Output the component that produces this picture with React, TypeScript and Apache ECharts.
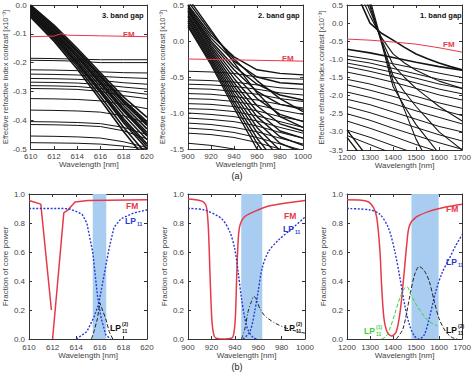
import React, { useEffect, useRef } from 'react';
import * as echarts from 'echarts';

const FONT = '"Liberation Sans", Arial, Helvetica, sans-serif';

// ---------------- data: top panels (effective index contrast) ----------------
const t1X = [610, 612, 614, 616, 618, 620];
const t1Steep = [
  [0.0, -0.07, -0.15, -0.235, -0.32, -0.39],
  [-0.004, -0.076, -0.157, -0.243, -0.33, -0.405],
  [-0.008, -0.082, -0.163, -0.25, -0.34, -0.418],
  [-0.012, -0.088, -0.17, -0.258, -0.35, -0.43],
  [-0.016, -0.093, -0.176, -0.266, -0.36, -0.442],
  [-0.02, -0.098, -0.182, -0.274, -0.37, -0.455],
  [-0.024, -0.103, -0.19, -0.284, -0.382, -0.468],
  [-0.028, -0.108, -0.197, -0.294, -0.395, -0.482],
  [-0.033, -0.114, -0.205, -0.305, -0.41, -0.5],
  [-0.038, -0.12, -0.213, -0.318, -0.425, -0.52],
  [-0.042, -0.126, -0.222, -0.33, -0.44, -0.54],
  [-0.006, -0.079, -0.16, -0.247, -0.335, -0.412],
  [-0.018, -0.096, -0.179, -0.27, -0.365, -0.449],
  [-0.03, -0.111, -0.201, -0.3, -0.402, -0.49],
];
const t1Flat = [
  [-0.185, -0.186, -0.188, -0.19, -0.19, -0.19],
  [-0.192, -0.193, -0.195, -0.2, -0.2, -0.2],
  [-0.225, -0.226, -0.228, -0.232, -0.235, -0.236],
  [-0.24, -0.241, -0.243, -0.248, -0.252, -0.255],
  [-0.255, -0.256, -0.258, -0.262, -0.27, -0.275],
  [-0.268, -0.269, -0.271, -0.276, -0.285, -0.292],
  [-0.28, -0.281, -0.283, -0.29, -0.3, -0.31],
  [-0.29, -0.291, -0.293, -0.3, -0.315, -0.325],
  [-0.325, -0.326, -0.328, -0.333, -0.345, -0.36],
  [-0.365, -0.366, -0.368, -0.372, -0.385, -0.41],
  [-0.405, -0.406, -0.408, -0.412, -0.425, -0.45],
  [-0.415, -0.416, -0.418, -0.422, -0.437, -0.465],
  [-0.455, -0.456, -0.458, -0.462, -0.475, -0.495],
  [-0.478, -0.479, -0.48, -0.483, -0.49, -0.5],
];
const t1FmX = [610, 612, 612.6, 613.2, 616, 620];
const t1FmY = [-0.11, -0.108, -0.1, -0.105, -0.107, -0.11];

const t2X = [900, 920, 940, 960, 980, 1000];
const t2Steep = [
  [0.5, 0.08, -0.22, -0.4, -0.45, -0.47],
  [0.48, 0.04, -0.28, -0.5, -0.58, -0.6],
  [0.46, 0.0, -0.35, -0.6, -0.75, -0.82],
  [0.44, -0.03, -0.4, -0.7, -0.88, -0.95],
  [0.42, -0.06, -0.46, -0.8, -1.02, -1.12],
  [0.4, -0.09, -0.52, -0.9, -1.15, -1.25],
  [0.37, -0.12, -0.58, -0.98, -1.25, -1.35],
  [0.35, -0.15, -0.63, -1.05, -1.33, -1.45],
  [0.33, -0.18, -0.68, -1.12, -1.42, -1.55],
  [0.3, -0.21, -0.73, -1.2, -1.52, -1.65],
  [0.28, -0.24, -0.78, -1.27, -1.62],
  [0.25, -0.27, -0.83, -1.35, -1.75],
  [0.22, -0.3, -0.88, -1.42, -1.85],
  [0.2, -0.33, -0.93, -1.5, -1.95],
  [0.55, 0.12, -0.25, -0.55, -0.8, -0.98],
  [0.6, 0.15, -0.3, -0.72, -1.05, -1.2],
];
const t2Flat = [
  [-0.42, -0.43, -0.45, -0.5, -0.52, -0.53],
  [-0.54, -0.55, -0.57, -0.61, -0.65, -0.67],
  [-0.6, -0.61, -0.63, -0.67, -0.72, -0.75],
  [-0.66, -0.67, -0.7, -0.74, -0.8, -0.84],
  [-0.73, -0.74, -0.77, -0.82, -0.88, -0.93],
  [-0.8, -0.81, -0.84, -0.89, -0.96, -1.02],
  [-0.87, -0.88, -0.91, -0.97, -1.05, -1.11],
  [-0.94, -0.95, -0.98, -1.04, -1.12, -1.2],
  [-1.0, -1.02, -1.05, -1.11, -1.2, -1.28],
  [-1.07, -1.09, -1.12, -1.18, -1.27, -1.35],
  [-1.14, -1.16, -1.2, -1.26, -1.35, -1.43],
  [-1.21, -1.23, -1.27, -1.34, -1.43, -1.52],
  [-1.28, -1.3, -1.34, -1.41, -1.5, -1.58],
  [-1.42, -1.45, -1.5, -1.57],
];
const t2FmX = [900, 950, 1000];
const t2FmY = [-0.25, -0.265, -0.28];

const t3X = [1200, 1300, 1400, 1500, 1600, 1700];
const t3Mod = [
  [-0.72, -0.82, -0.95, -1.08, -1.2, -1.3],
  [-0.9, -1.0, -1.12, -1.25, -1.38, -1.5],
  [-1.0, -1.1, -1.25, -1.4, -1.55, -1.65],
  [-1.1, -1.22, -1.36, -1.52, -1.68, -1.8],
  [-1.2, -1.33, -1.48, -1.65, -1.82, -1.95],
  [-1.35, -1.48, -1.63, -1.8, -1.98, -2.12],
  [-1.55, -1.68, -1.85, -2.02, -2.2, -2.35],
  [-1.7, -1.85, -2.02, -2.2, -2.38, -2.55],
  [-1.9, -2.05, -2.22, -2.42, -2.6, -2.78],
  [-2.1, -2.25, -2.45, -2.65, -2.85, -3.0],
  [-2.3, -2.47, -2.67, -2.88, -3.08, -3.25],
  [-2.5, -2.68, -2.9, -3.1, -3.3, -3.48],
  [-2.7, -2.9, -3.12, -3.35, -3.55],
  [-2.95, -3.15, -3.38, -3.6],
  [-3.1, -3.35, -3.6],
];
const t3CurveX = [1250, 1300, 1350, 1400, 1450, 1500, 1550, 1600, 1650, 1700];
const t3Curves = [
  [0.7, 0.0, -0.28, -0.47, -0.67, -0.85, -0.98, -1.1, -1.2, -1.29],
  [0.9, 0.2, -0.4, -0.85, -1.1, -1.3, -1.45, -1.6, -1.7, -1.8],
  [1.1, 0.35, -0.45, -1.15, -1.5, -1.8, -2.05, -2.3, -2.5, -2.7],
  [1.3, 0.45, -0.5, -1.45, -1.9, -2.3, -2.65, -3.0, -3.25, -3.5],
  [1.5, 0.55, -0.55, -1.75, -2.3, -2.8, -3.2, -3.6],
  [1.7, 0.65, -0.5, -1.6, -2.4, -3.2, -3.8],
];
const t3CornerX = [1200, 1230, 1260, 1290];
const t3Corner = [
  [-2.95, -3.2, -3.45, -3.7],
  [-3.15, -3.4, -3.65],
];
const t3FmX = [1200, 1300, 1400, 1500, 1600, 1700];
const t3FmY = [-0.44, -0.47, -0.52, -0.58, -0.68, -0.8];

// ---------------- data: bottom panels (fraction of core power) ----------------
const b1FmX = [610, 611, 611.9, 611.95, 612, 612.95, 613.3, 613.9, 615, 620];
const b1FmY = [0.955, 0.93, 0.2, null, 0.0, 0.87, 0.89, 0.945, 0.955, 0.96];
const b1LpDownX = [610, 613, 613.5, 614, 614.5, 614.9, 615.4, 615.8, 616.1, 616.5, 616.9];
const b1LpDownY = [0.9, 0.9, 0.895, 0.88, 0.86, 0.8, 0.6, 0.3, 0.15, 0.03, 0.0];
const b1LpUpX = [614.0, 614.9, 615.5, 615.9, 616.2, 616.5, 616.8, 617.2, 617.8, 618.9, 620];
const b1LpUpY = [0.0, 0.05, 0.15, 0.24, 0.37, 0.5, 0.63, 0.77, 0.83, 0.87, 0.89];
const b1Lp2X = [615.3, 615.5, 615.8, 616.0, 616.5, 616.8, 617.1];
const b1Lp2Y = [0.0, 0.05, 0.14, 0.25, 0.14, 0.05, 0.0];
const b1Band = [615.4, 616.55];

const b2FmX = [900, 910, 914, 916, 917.5, 919, 920.5, 922, 924, 930, 937, 939, 940.5, 941.5, 942.5, 944, 948, 957, 971, 1000];
const b2FmY = [0.965, 0.955, 0.94, 0.9, 0.75, 0.4, 0.12, 0.03, 0.005, 0.0, 0.005, 0.03, 0.15, 0.4, 0.62, 0.77, 0.84, 0.88, 0.92, 0.955];
const b2LpDownX = [900, 914, 928.6, 935.7, 940, 942.9, 945.7, 948.6, 951.4, 955.7, 958.6];
const b2LpDownY = [0.9, 0.89, 0.83, 0.74, 0.62, 0.46, 0.28, 0.14, 0.06, 0.01, 0.0];
const b2LpUpX = [947, 952.9, 957, 960, 963.4, 968.6, 977, 988.6, 1000];
const b2LpUpY = [0.0, 0.05, 0.19, 0.33, 0.49, 0.6, 0.68, 0.76, 0.84];
const b2Lp2X = [945.7, 948.6, 951.4, 954.3, 956.3, 958.6, 961.4, 965.7, 974.3, 985.7, 1000];
const b2Lp2Y = [0.0, 0.07, 0.19, 0.26, 0.295, 0.27, 0.21, 0.16, 0.11, 0.07, 0.04];
const b2Band = [945.5, 963.5];

const b3FmX = [1200, 1286, 1314, 1329, 1343, 1350, 1360, 1374, 1393, 1414, 1431, 1446, 1460, 1471, 1500, 1557, 1629, 1700];
const b3FmY = [0.96, 0.95, 0.91, 0.84, 0.61, 0.38, 0.15, 0.05, 0.02, 0.05, 0.19, 0.42, 0.66, 0.78, 0.84, 0.88, 0.91, 0.93];
const b3LpX = [1200, 1300, 1343, 1379, 1407, 1429, 1450, 1471, 1493, 1514, 1536, 1557, 1586, 1614, 1643, 1671, 1700];
const b3LpY = [0.9, 0.89, 0.86, 0.77, 0.61, 0.43, 0.24, 0.1, 0.02, 0.0, 0.03, 0.14, 0.33, 0.46, 0.55, 0.64, 0.72];
const b3Lp2X = [1414, 1443, 1471, 1493, 1514, 1536, 1557, 1579, 1600, 1629, 1657, 1679];
const b3Lp2Y = [0.0, 0.07, 0.28, 0.44, 0.5, 0.47, 0.4, 0.26, 0.14, 0.05, 0.01, 0.0];
const b3Lp1X = [1350, 1371, 1386, 1407, 1429, 1450, 1461, 1479, 1500, 1529, 1557, 1593];
const b3Lp1Y = [0.0, 0.02, 0.07, 0.17, 0.28, 0.35, 0.36, 0.3, 0.24, 0.17, 0.12, 0.09];
const b3Band = [1480, 1598];

// ---------------- layout ----------------
const EFF = 'Effective refractive index contrast [x10\u207B\u00B3]';
const FRAC = 'Fraction of core power';
const grids = [
  { left: 29, top: 5, width: 118, height: 144, x: [610, 620, 2], y: [-0.5, 0, 0.1], yName: EFF, yGap: 17, xm: 3, xg: 10 },
  { left: 188, top: 5, width: 115, height: 144, x: [900, 1000, 20], y: [-1.5, 0.5, 0.5], yName: EFF, yGap: 19, xm: 3, xg: 10 },
  { left: 347, top: 5, width: 117, height: 145, x: [1200, 1700, 100], y: [-3.5, 0.5, 0.5], yName: EFF, yGap: 19, xm: 3, xg: 10 },
  { left: 29, top: 194, width: 118, height: 145, x: [610, 620, 2], y: [0, 1, 0.2], yName: FRAC, yGap: 18, xm: 4, xg: 12 },
  { left: 188, top: 194, width: 117, height: 145, x: [900, 1000, 20], y: [0, 1, 0.2], yName: FRAC, yGap: 20, xm: 4, xg: 12 },
  { left: 347, top: 194, width: 117, height: 145, x: [1200, 1700, 100], y: [0, 1, 0.2], yName: FRAC, yGap: 19, xm: 4, xg: 12 },
];

const AX = '#333';
const LBL = '#444';
const RED = '#e8394a';
const BLUE = '#2b3bd0';
const GREEN = '#3ccf3c';
const BANDC = '#a9cdf1';

const pairs = (xs: number[], ys: (number | null)[]) =>
  ys.map((y, i) => [xs[i], y === null ? '-' : y]);

function line(g: number, data: any[], color: string, width: number, type: any = 'solid', extra: any = {}) {
  return {
    type: 'line',
    xAxisIndex: g * 2,
    yAxisIndex: g * 2,
    data,
    symbol: 'none',
    showSymbol: false,
    silent: true,
    clip: true,
    connectNulls: false,
    lineStyle: { color, width, type },
    z: 3,
    ...extra,
  };
}

function band(g: number, r: number[], y0: number) {
  return {
    type: 'line',
    xAxisIndex: g * 2,
    yAxisIndex: g * 2,
    data: [[r[0], y0], [r[1], y0]],
    symbol: 'none',
    silent: true,
    lineStyle: { opacity: 0, width: 0 },
    z: 1,
    markArea: {
      silent: true,
      itemStyle: { color: BANDC, opacity: 1 },
      data: [[{ xAxis: r[0] }, { xAxis: r[1] }]],
    },
  };
}

function buildOption() {
  const xAxis: any[] = [];
  const yAxis: any[] = [];
  grids.forEach((gd, i) => {
    const tick = { show: true, inside: true, length: 3, lineStyle: { color: AX, width: 1 } };
    const axLine = { show: true, onZero: false, lineStyle: { color: AX, width: 1 } };
    xAxis.push({
      gridIndex: i, type: 'value', position: 'bottom',
      min: gd.x[0], max: gd.x[1], interval: gd.x[2],
      axisLine: axLine, axisTick: tick, splitLine: { show: false },
      axisLabel: { fontSize: 8, color: LBL, margin: gd.xm, fontFamily: FONT, formatter: (v: number) => String(Math.round(v)) },
      name: 'Wavelength [nm]', nameLocation: 'middle', nameGap: gd.xg,
      nameTextStyle: { fontSize: 8, color: LBL, fontFamily: FONT },
    });
    xAxis.push({
      gridIndex: i, type: 'value', position: 'top',
      min: gd.x[0], max: gd.x[1], interval: gd.x[2],
      axisLine: axLine, axisTick: tick, splitLine: { show: false }, axisLabel: { show: false },
    });
    yAxis.push({
      gridIndex: i, type: 'value', position: 'left',
      min: gd.y[0], max: gd.y[1], interval: gd.y[2],
      axisLine: axLine, axisTick: tick, splitLine: { show: false },
      axisLabel: { fontSize: 8, color: LBL, margin: 4, fontFamily: FONT, formatter: (v: number) => v.toFixed(1) },
      name: gd.yName, nameLocation: 'middle', nameGap: gd.yGap, nameRotate: 90,
      nameTextStyle: { fontSize: gd.yName === EFF ? 7.5 : 8, color: LBL, fontFamily: FONT },
    });
    yAxis.push({
      gridIndex: i, type: 'value', position: 'right',
      min: gd.y[0], max: gd.y[1], interval: gd.y[2],
      axisLine: axLine, axisTick: tick, splitLine: { show: false }, axisLabel: { show: false },
    });
  });

  const series: any[] = [];
  const BLK = '#141414';
  // top panel 1
  t1Flat.forEach((ys) => series.push(line(0, pairs(t1X, ys), BLK, 1)));
  t1Steep.forEach((ys) => series.push(line(0, pairs(t1X, ys), BLK, 1.6)));
  series.push(line(0, pairs(t1FmX, t1FmY), RED, 1));
  // top panel 2
  t2Flat.forEach((ys) => series.push(line(1, pairs(t2X, ys), BLK, 1)));
  t2Steep.forEach((ys) => series.push(line(1, pairs(t2X, ys), BLK, 1.4)));
  series.push(line(1, pairs(t2FmX, t2FmY), RED, 1));
  // top panel 3
  t3Mod.forEach((ys, k) => series.push(line(2, pairs(t3X, ys), BLK, k === 0 ? 1.6 : 1)));
  t3Curves.forEach((ys, k) => series.push(line(2, pairs(t3CurveX, ys), BLK, k === 0 ? 1.6 : 1.1)));
  t3Corner.forEach((ys) => series.push(line(2, pairs(t3CornerX, ys), BLK, 1.4)));
  series.push(line(2, pairs(t3FmX, t3FmY), RED, 1));
  // bottom panel 1
  series.push(band(3, b1Band, 0.5));
  series.push(line(3, pairs(b1FmX, b1FmY), RED, 1.5));
  series.push(line(3, pairs(b1LpDownX, b1LpDownY), BLUE, 1.4, [2, 1.6]));
  series.push(line(3, pairs(b1LpUpX, b1LpUpY), BLUE, 1.4, [2, 1.6]));
  series.push(line(3, pairs(b1Lp2X, b1Lp2Y), '#222', 1, [4, 2]));
  // bottom panel 2
  series.push(band(4, b2Band, 0.5));
  series.push(line(4, pairs(b2FmX, b2FmY), RED, 1.5, 'solid', { smooth: 0.3 }));
  series.push(line(4, pairs(b2LpDownX, b2LpDownY), BLUE, 1.4, [2, 1.6], { smooth: 0.3 }));
  series.push(line(4, pairs(b2LpUpX, b2LpUpY), BLUE, 1.4, [2, 1.6], { smooth: 0.3 }));
  series.push(line(4, pairs(b2Lp2X, b2Lp2Y), '#222', 1, [4, 2, 1, 2], { smooth: 0.3 }));
  // bottom panel 3
  series.push(band(5, b3Band, 0.5));
  series.push(line(5, pairs(b3FmX, b3FmY), RED, 1.5, 'solid', { smooth: 0.3 }));
  series.push(line(5, pairs(b3LpX, b3LpY), BLUE, 1.4, [2, 1.6], { smooth: 0.3 }));
  series.push(line(5, pairs(b3Lp2X, b3Lp2Y), '#222', 1, [4, 2], { smooth: 0.3 }));
  series.push(line(5, pairs(b3Lp1X, b3Lp1Y), GREEN, 1, [4, 2], { smooth: 0.3 }));

  const txt = (x: number, y: number, text: string, fill: string, size: number, weight: any = 'normal', align: any = 'left') => ({
    type: 'text', x, y, z: 10, silent: true,
    style: { text, fill, fontSize: size, fontWeight: weight, fontFamily: FONT, align, verticalAlign: 'top' },
  });
  const lp = (x: number, y: number, fill: string, sup?: string) => {
    const out: any[] = [txt(x, y, 'LP', fill, 8.5, 'bold'), txt(x + 12, y + 5, '11', fill, 5, 'bold')];
    if (sup) out.push(txt(x + 12, y - 2, sup, fill, 5, 'bold'));
    return out;
  };

  const graphic: any[] = [
    txt(102, 11, '3. band gap', '#111', 7.5, 'bold'),
    txt(123, 30, 'FM', RED, 8, 'bold'),
    txt(258, 11, '2. band gap', '#111', 7.5, 'bold'),
    txt(282, 54, 'FM', RED, 8, 'bold'),
    txt(420, 11, '1. band gap', '#111', 7.5, 'bold'),
    txt(443, 40, 'FM', RED, 8, 'bold'),
    txt(237, 171, '(a)', '#222', 9, 'normal', 'center'),
    txt(126, 201, 'FM', RED, 8.5, 'bold'),
    ...lp(125, 216, BLUE),
    ...lp(110, 323, '#111', '(2)'),
    txt(284, 211, 'FM', RED, 8.5, 'bold'),
    ...lp(283, 224, BLUE),
    ...lp(284, 323, '#111', '(2)'),
    txt(446, 204, 'FM', RED, 8.5, 'bold'),
    ...lp(446, 257, BLUE),
    ...lp(446, 325, '#111', '(2)'),
    ...lp(364, 326, GREEN, '(1)'),
    txt(237, 362, '(b)', '#222', 9, 'normal', 'center'),
  ];

  return {
    animation: false,
    backgroundColor: '#ffffff',
    textStyle: { fontFamily: FONT },
    grid: grids.map((g) => ({ left: g.left, top: g.top, width: g.width, height: g.height, containLabel: false })),
    xAxis,
    yAxis,
    series,
    graphic,
  };
}

export default function App() {
  const ref = useRef<HTMLDivElement>(null);
  useEffect(() => {
    if (!ref.current) return;
    const chart = echarts.init(ref.current, null, { renderer: 'svg' });
    chart.setOption(buildOption() as any);
    return () => chart.dispose();
  }, []);
  return (
    <div
      ref={ref}
      style={{ position: 'absolute', left: 0, top: 0, width: 474, height: 374, background: '#fff' }}
    />
  );
}
